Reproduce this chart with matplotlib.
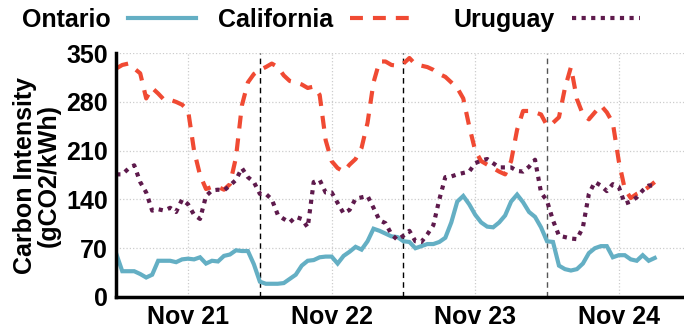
import numpy as np
import matplotlib
matplotlib.use("Agg")
import matplotlib.pyplot as plt

plt.rcParams["font.family"] = ["Liberation Sans", "DejaVu Sans"]
plt.rcParams["font.weight"] = "bold"

# hourly carbon intensity (gCO2/kWh), starting at 00:00 Nov 21
hours = np.arange(91)

ontario = [
    62, 37, 37, 37, 33, 28, 32, 52, 52, 52, 50, 54, 55, 54, 57, 48, 52, 51, 59, 61, 67, 66, 66, 47,
    22, 19, 19, 19, 20, 26, 32, 45, 52, 53, 57, 58, 58, 48, 59, 65, 72, 68, 80, 98, 95, 91, 87, 86,
    80, 79, 70, 73, 76, 76, 79, 85, 107, 137, 145, 133, 118, 107, 101, 100, 107, 117, 137, 147, 136, 122, 115, 100,
    80, 79, 45, 40, 38, 40, 48, 63, 70, 73, 73, 57, 60, 60, 54, 52, 60, 52, 56,
]
california = [
    328, 333, 335, 328, 321, 285, 300, 292, 283, 283, 280, 276, 268, 210, 175, 155, 158, 158, 154, 162, 200, 275, 308, 320,
    326, 330, 335, 330, 318, 310, 308, 305, 300, 302, 290, 225, 195, 185, 180, 190, 198, 214, 250, 308, 338, 338, 333, 332,
    335, 343, 334, 332, 330, 326, 320, 316, 308, 300, 285, 245, 210, 195, 190, 185, 180, 176, 195, 240, 267, 267, 265, 262,
    246, 250, 258, 300, 330, 284, 262, 255, 265, 275, 265, 250, 195, 155, 142, 148, 152, 158, 165,
]
uruguay = [
    176, 176, 184, 189, 165, 150, 124, 126, 124, 128, 122, 140, 133, 118, 112, 145, 153, 154, 153, 160, 168, 185, 172, 165,
    148, 148, 140, 118, 112, 107, 115, 112, 100, 165, 168, 150, 150, 135, 120, 125, 141, 143, 145, 128, 110, 106, 90, 82,
    88, 95, 80, 79, 90, 103, 140, 172, 173, 176, 178, 180, 192, 196, 198, 192, 186, 186, 186, 181, 180, 187, 197, 150,
    138, 110, 88, 86, 84, 83, 100, 148, 165, 160, 152, 162, 158, 134, 137, 143, 153, 160, 160,
]

day_ticks = [12, 36, 60, 84]
day_labels = ["Nov 21", "Nov 22", "Nov 23", "Nov 24"]
midnights = [24, 48, 72]
y_ticks = [0, 70, 140, 210, 280, 350]

fig = plt.figure(figsize=(6.84, 3.30), dpi=100)
ax = fig.add_axes([0.170, 0.100, 0.830, 0.739])

l1, = ax.plot(hours, ontario, color="#64afc4", lw=3, label="Ontario", solid_joinstyle="miter")
l2, = ax.plot(hours, california, color="#f04a33", lw=3, linestyle=(0, (3.1, 2.4)), label="California")
l3, = ax.plot(hours, uruguay, color="#5e1a4c", lw=3, linestyle=(0, (1, 1.3)), label="Uruguay")

for i, m in enumerate(midnights):
    c = "black" if i < 2 else "#555555"
    ax.axvline(m, color=c, lw=1, linestyle=(0, (4, 3)), zorder=1)

ax.set_xlim(0, 94.9)
ax.set_ylim(0, 350)
ax.set_xticks(day_ticks)
ax.set_xticklabels(day_labels)
ax.set_yticks(y_ticks)
ax.tick_params(length=0, labelsize=18, pad=6)
ax.grid(True, color="#cccccc", linestyle=":", lw=0.9, zorder=0)

for side in ["top", "right"]:
    ax.spines[side].set_visible(False)
for side in ["left", "bottom"]:
    ax.spines[side].set_linewidth(2.5)

ax.set_ylabel("Carbon Intensity\n(gCO2/kWh)", fontsize=18, fontweight="bold",
              linespacing=1.0, labelpad=4)

# key along the top: label first, then the line sample
leg_kw = dict(loc="center left", frameon=False, markerfirst=False,
              prop={"size": 18, "weight": "bold"}, handlelength=2.72,
              handletextpad=0.68, columnspacing=0.88, borderaxespad=0)
fig.legend(handles=[l1, l2], ncol=2, bbox_to_anchor=(0.0175, 0.939), **leg_kw)
fig.legend(handles=[l3], ncol=1, bbox_to_anchor=(0.649, 0.939), **leg_kw)

fig.savefig("out.png", dpi=100)
